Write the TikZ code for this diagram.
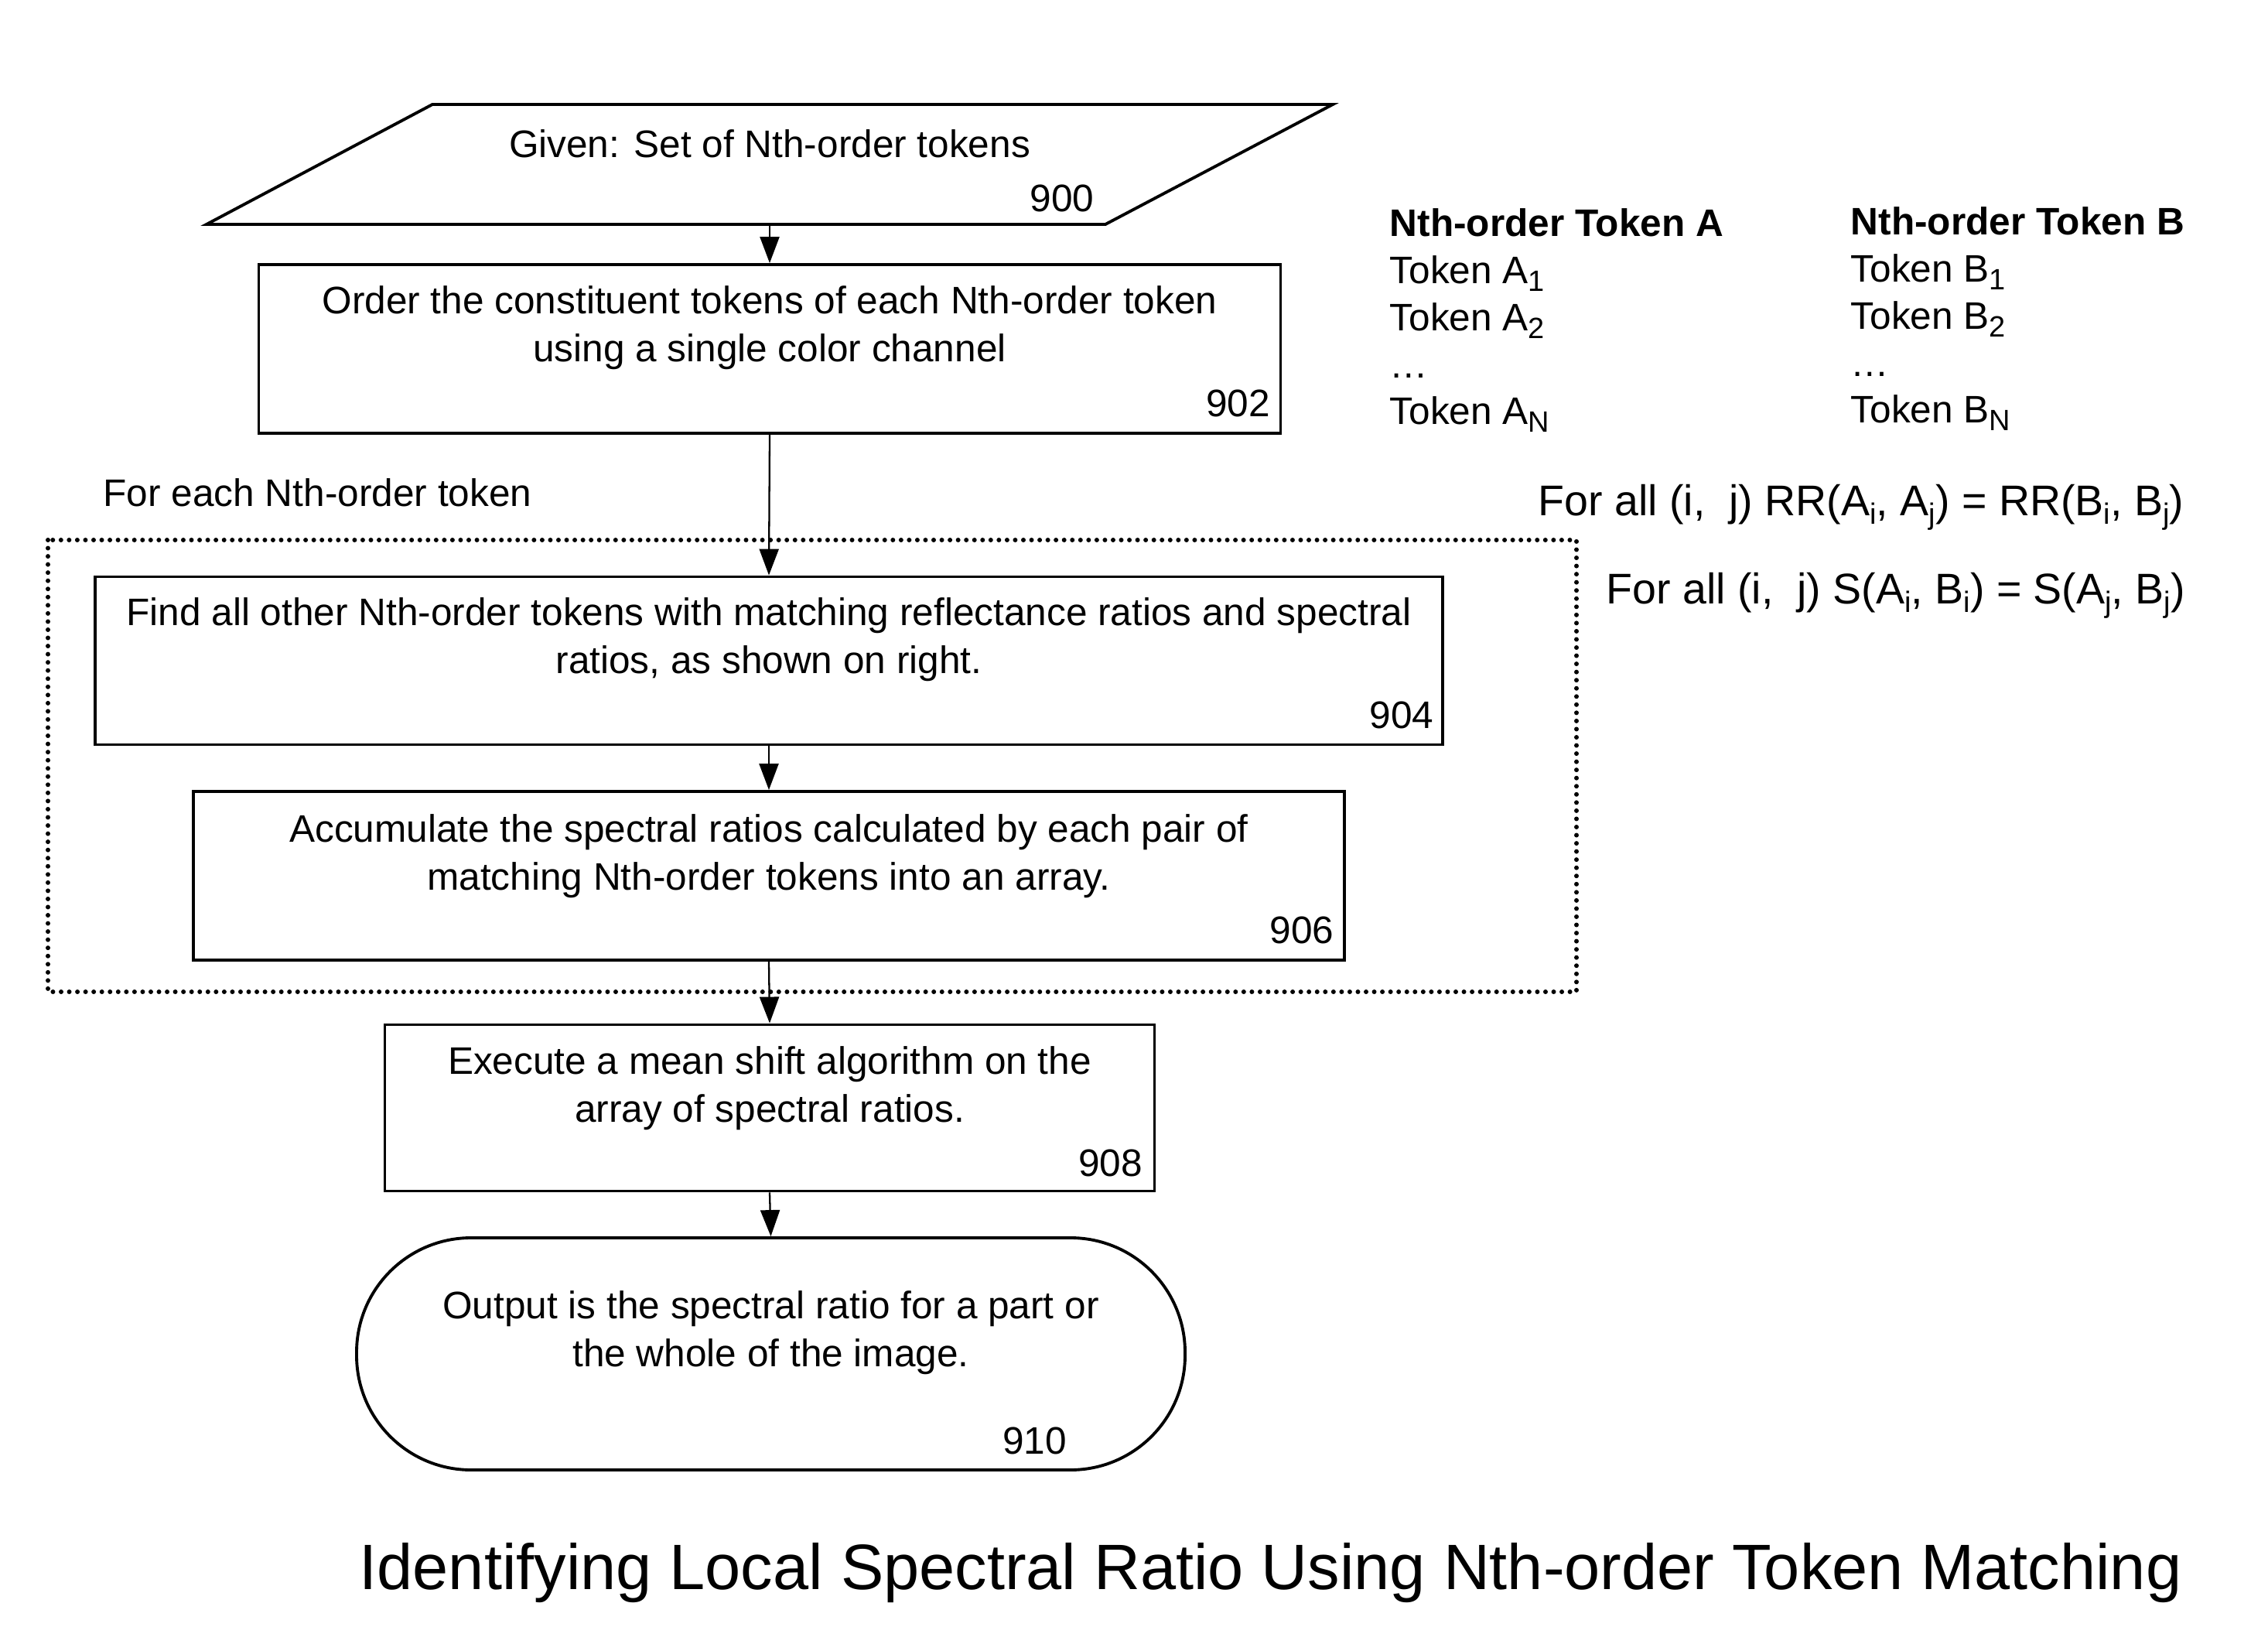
\documentclass[tikz,border=0pt]{standalone}
\usepackage{fontspec}
\setmainfont{Liberation Sans}
\usetikzlibrary{arrows.meta, positioning, calc}

\newcommand{\tsub}[1]{\raisebox{-0.2em}{\fontsize{10.8}{12}\selectfont #1}}

\tikzset{
  stepbox/.style={draw, line width=1.1pt, inner sep=0pt},
  steptext/.style={align=center, inner sep=0pt},
  stepnum/.style={anchor=south east, inner sep=0pt},
  flow/.style={-{Triangle[length=0.34cm, width=0.25cm]}, line width=0.65pt},
  loopframe/.style={line width=1.7pt, line cap=round, dash pattern=on 0pt off 3pt},
}

\begin{document}
\begin{tikzpicture}[font=\fontsize{14.1}{17.6}\selectfont]
  \useasboundingbox (0,0) rectangle (29.32,-21.25);

  % Input parallelogram
  \draw[stepbox] (2.67,-2.90) -- (14.29,-2.90) -- (17.23,-1.35) -- (5.59,-1.35) -- cycle;
  \coordinate (b900) at (9.95,-2.90);
  \node[steptext] (t900) at (9.95,-1.855) {Given: Set of Nth-order tokens};
  \node[stepnum] (n900) at (14.15,-2.75) {900};

  % Steps
  \node[stepbox, minimum width=13.21cm, minimum height=2.18cm] (b902) at (9.95,-4.51) {};
  \node[steptext] (t902) at ([yshift=0.27cm]b902.center) {Order the constituent tokens of each Nth-order token\\using a single color channel};
  \node[stepnum] (n902) at ([shift={(-0.15,0.22)}]b902.south east) {902};

  \node[stepbox, minimum width=17.42cm, minimum height=2.17cm] (b904) at (9.94,-8.54) {};
  \node[steptext] (t904) at ([yshift=0.27cm]b904.center) {Find all other Nth-order tokens with matching reflectance ratios and spectral\\ratios, as shown on right.};
  \node[stepnum] (n904) at ([shift={(-0.13,0.22)}]b904.south east) {904};

  \node[stepbox, minimum width=14.88cm, minimum height=2.18cm] (b906) at (9.94,-11.32) {};
  \node[steptext] (t906) at ([yshift=0.25cm]b906.center) {Accumulate the spectral ratios calculated by each pair of\\matching Nth-order tokens into an array.};
  \node[stepnum] (n906) at ([shift={(-0.15,0.22)}]b906.south east) {906};

  \node[stepbox, minimum width=9.95cm, minimum height=2.15cm] (b908) at (9.95,-14.32) {};
  \node[steptext] (t908) at ([yshift=0.25cm]b908.center) {Execute a mean shift algorithm on the\\array of spectral ratios.};
  \node[stepnum] (n908) at ([shift={(-0.17,0.20)}]b908.south east) {908};

  % Output terminal
  \node[stepbox, rounded corners=1.48cm, minimum width=10.71cm, minimum height=3.00cm] (b910) at (9.965,-17.50) {};
  \node[steptext] (t910) at ([yshift=0.27cm]b910.center) {Output is the spectral ratio for a part or\\the whole of the image.};
  \node[stepnum] (n910) at ([shift={(3.83,0.21)}]b910.south) {910};

  % Loop frame
  \draw[loopframe] (0.62,-6.98) rectangle (20.38,-12.82);
  \node[anchor=west, inner sep=0pt] (foreach) at (1.33,-6.37) {For each Nth-order token};

  % Connectors
  \draw[flow] (b900) -- (b902.north);
  \draw[flow] (b902.south) -- (b904.north);
  \draw[flow] (b904.south) -- (b906.north);
  \draw[flow] (b906.south) -- (b908.north);
  \draw[flow] (b908.south) -- (b910.north);

  % Token columns
  \node[anchor=north west, align=left, inner sep=0pt, font=\fontsize{14.1}{17.3}\selectfont] (colA) at (17.96,-2.69)
    {\textbf{Nth-order Token A}\\Token A\tsub{1}\\Token A\tsub{2}\\\ldots\\Token A\tsub{N}};
  \node[anchor=north west, align=left, inner sep=0pt, font=\fontsize{14.1}{17.3}\selectfont] (colB) at (23.92,-2.67)
    {\textbf{Nth-order Token B}\\Token B\tsub{1}\\Token B\tsub{2}\\\ldots\\Token B\tsub{N}};

  % Matching conditions
  \node[anchor=base west, inner sep=0pt, font=\fontsize{15.8}{19}\selectfont] (rrline) at (19.88,-6.66)
    {For all (i,\ \ j) RR(A\tsub{i}, A\tsub{j}) = RR(B\tsub{i}, B\tsub{j})};
  \node[anchor=base west, inner sep=0pt, font=\fontsize{15.8}{19}\selectfont] (sline) at (20.76,-7.80)
    {For all (i,\ \ j) S(A\tsub{i}, B\tsub{i}) = S(A\tsub{j}, B\tsub{j})};

  % Caption
  \node[anchor=base west, inner sep=0pt, font=\fontsize{23.6}{28}\selectfont] (title) at (4.64,-20.54)
    {Identifying Local Spectral Ratio Using Nth-order Token Matching};
\end{tikzpicture}
\end{document}
